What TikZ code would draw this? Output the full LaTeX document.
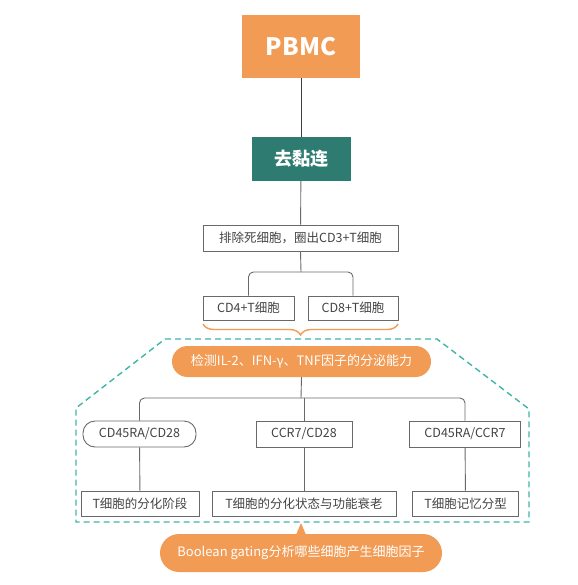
\documentclass[tikz,border=0pt]{standalone}
\usepackage{fontspec}
\setmainfont{Noto Sans CJK SC}
\usepackage{tikz}
\usetikzlibrary{positioning,calc}
\usetikzlibrary{decorations.pathreplacing}
\definecolor{PbmcOrange}{RGB}{242,155,84}
\definecolor{DeepTeal}{RGB}{46,123,114}
\definecolor{DashTeal}{RGB}{64,182,168}
\definecolor{LineGray}{RGB}{105,105,105}
\definecolor{TextGray}{RGB}{68,68,68}
\tikzset{
  box/.style={draw=LineGray,fill=white,line width=0.9pt,inner sep=0pt,
    text=TextGray,font=\fontsize{12.5}{15}\selectfont},
  conn/.style={draw=LineGray,line width=0.9pt},
  pill/.style={fill=PbmcOrange,text=white,inner sep=0pt,font=\fontsize{13}{15}\selectfont},
}
\tikzset{brace/.style={draw=PbmcOrange,line width=1.4pt,decorate,
  decoration={brace,mirror,amplitude=11pt}},
  region/.style={draw=DashTeal,line width=1.4pt,dash pattern=on 6pt off 4pt}}

\begin{document}
\begin{tikzpicture}[x=1pt,y=-1pt]
\useasboundingbox (0,0) rectangle (577,585);
% top of the flow
\node[fill=PbmcOrange,text=white,minimum width=118pt,minimum height=63pt,inner sep=0pt,
  font=\fontsize{24}{28}\selectfont\bfseries] (pbmc) at (301,46.5) {PBMC};
\node[fill=DeepTeal,text=white,minimum width=99pt,minimum height=44pt,inner sep=0pt,
  font=\fontsize{18}{21}\selectfont\bfseries] (detach) at (301,159) {去黏连};
\node[box,minimum width=195pt,minimum height=26pt] (live) at (300.5,238) {排除死细胞，圈出CD3+T细胞};
\node[box,minimum width=91pt,minimum height=24pt] (cdfour) at (248.5,308) {CD4+T细胞};
\node[box,minimum width=90pt,minimum height=24pt] (cdeight) at (353,308) {CD8+T细胞};
\coordinate (split1) at (301,272);
\draw[draw=black!75,line width=1pt] (pbmc) -- (detach);
\draw[conn] (detach) -- (live);
\draw[conn] (live.south) -- (split1);
\draw[conn,rounded corners=5pt] (cdfour.north) -- (cdfour.north |- split1) -- (cdeight.north |- split1) -- (cdeight.north);
\draw[brace] (203,324) -- (398,324);
% dashed region
\draw[region] (165,339) -- (437,339) -- (529,409) -- (529,522) -- (76,522) -- (76,408) -- cycle;
\node[pill,minimum width=259pt,minimum height=31pt,rounded corners=15.5pt] (cyto) at (301.5,361.5)
  {检测IL-2、IFN-γ、TNF因子的分泌能力};
\coordinate (split2) at (301,398);
\node[box,minimum width=113pt,minimum height=26pt,rounded corners=12pt] (markA) at (139.5,434) {CD45RA/CD28};
\node[box,minimum width=96pt,minimum height=26pt] (markB) at (304,434) {CCR7/CD28};
\node[box,minimum width=111pt,minimum height=26pt] (markC) at (465,434) {CD45RA/CCR7};
\node[box,minimum width=118pt,minimum height=25pt] (typeA) at (140,503.5) {T细胞的分化阶段};
\node[box,minimum width=184pt,minimum height=25pt] (typeB) at (304,503.5) {T细胞的分化状态与功能衰老};
\node[box,minimum width=106pt,minimum height=25pt] (typeC) at (465.5,503.5) {T细胞记忆分型};
\draw[conn] (cyto.south) -- (split2);
\draw[conn,rounded corners=5pt] (markA.north) -- (markA.north |- split2) -- (markC.north |- split2) -- (markC.north);
\draw[conn] (markB.north) -- (markB.north |- split2);
\draw[conn] (markA) -- (typeA);
\draw[conn] (markB) -- (typeB);
\draw[conn] (markC) -- (typeC);
% callout at the bottom
\node[pill,minimum width=282pt,minimum height=38pt,rounded corners=19pt]
  (bool) at (301,553) {Boolean gating分析哪些细胞产生细胞因子};
\coordinate (tip) at (301,523);
\fill[PbmcOrange] ($(bool.north)+(-5,1)$) -- (tip) -- ($(bool.north)+(5,1)$) -- cycle;
\end{tikzpicture}
\end{document}
